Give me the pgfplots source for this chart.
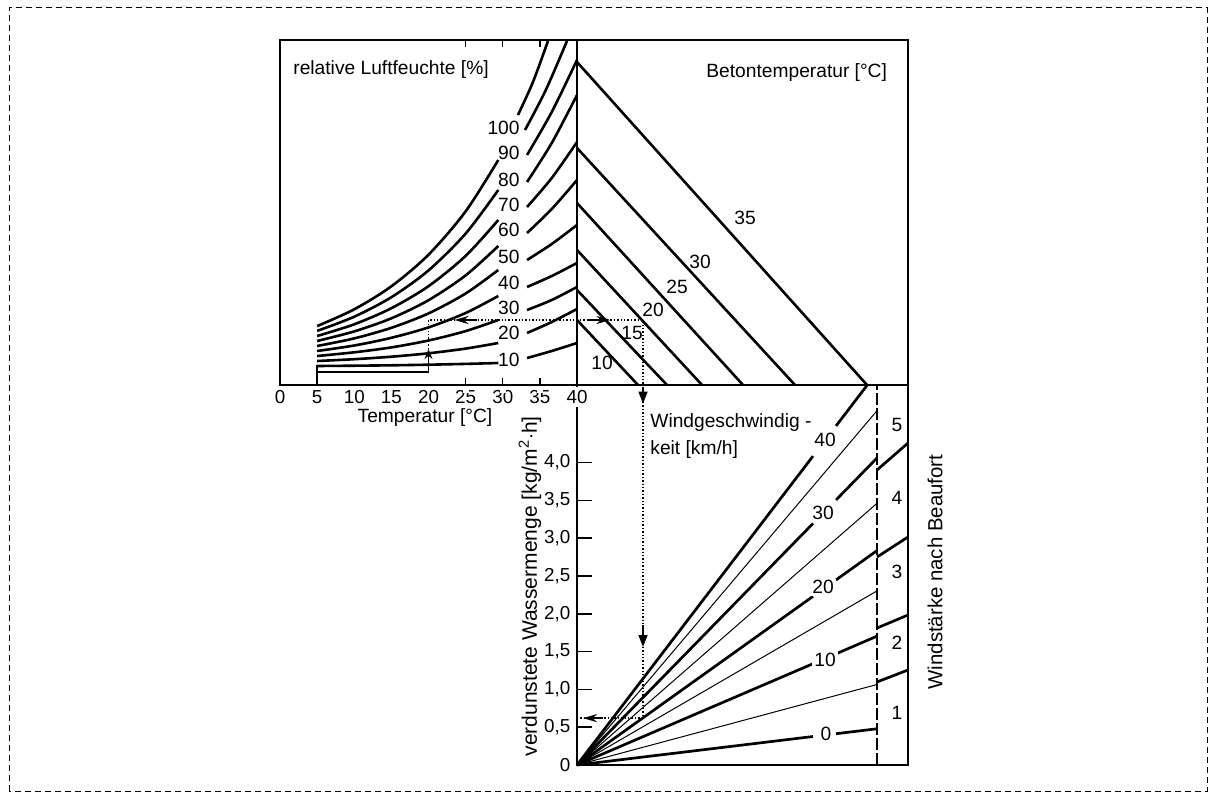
\documentclass[border=0pt]{standalone}
\usepackage{pgfplots}
\pgfplotsset{compat=1.18}
\usepackage{fontspec}
\setmainfont{Liberation Sans}
\usetikzlibrary{arrows.meta}
\begin{document}
\fontsize{9.6}{11}\selectfont
\begin{tikzpicture}
\useasboundingbox (0pt,0pt) rectangle (607.5pt,399.5pt);
\draw[line width=0.5pt, dash pattern=on 3pt off 2pt] (4.5pt,4pt) rectangle (603.5pt,395.5pt);
% ---------------- bottom panel: evaporation vs wind ----------------
\begin{axis}[at={(288.5pt,17pt)}, anchor=south west, scale only axis,
  width=165.5pt, height=190pt, xmin=0, xmax=331, ymin=0, ymax=5.0265,
  clip=false, axis line style={line width=0.8pt},
  xtick=\empty, ytick={0,0.5,1,1.5,2,2.5,3,3.5,4},
  yticklabels={0,{0,5},{1,0},{1,5},{2,0},{2,5},{3,0},{3,5},{4,0}},
  ytick pos=left, tick align=inside, major tick length=7.5pt,
  every tick/.style={line width=0.8pt, black},
  yticklabel style={font=\fontsize{9.4}{10}\selectfont}]
% thin lines (5,15,25,35 km/h)
\addplot[line width=0.5pt] coordinates {(0,0)(300,1.065)};
\addplot[line width=0.5pt] coordinates {(0,0)(300,2.303)};
\addplot[line width=0.5pt] coordinates {(0,0)(300,3.462)};
\addplot[line width=0.5pt] coordinates {(0,0)(300,4.687)};
% thick lines (0,10,20,30,40 km/h) with label gaps
\addplot[line width=1.35pt] coordinates {(0,0)(236,0.377)};
\addplot[line width=1.35pt] coordinates {(259,0.414)(300,0.479)};
\addplot[line width=1.35pt] coordinates {(0,0)(236,1.340)};
\addplot[line width=1.35pt] coordinates {(259,1.471)(300,1.704)};
\addplot[line width=1.35pt] coordinates {(0,0)(236,2.231)};
\addplot[line width=1.35pt] coordinates {(259,2.448)(300,2.836)};
\addplot[line width=1.35pt] coordinates {(0,0)(236,3.195)};
\addplot[line width=1.35pt] coordinates {(259,3.506)(300,4.061)};
\addplot[line width=1.35pt] coordinates {(0,0)(236,4.086)};
\addplot[line width=1.35pt] coordinates {(259,4.485)(290.3,5.0265)};
% Beaufort column
\addplot[line width=0.6pt, dash pattern=on 6pt off 1.5pt] coordinates {(300,0)(300,5.0265)};
\addplot[line width=1.35pt] coordinates {(300,1.098)(331,1.257)};
\addplot[line width=1.35pt] coordinates {(300,1.812)(331,1.984)};
\addplot[line width=1.35pt] coordinates {(300,2.751)(331,3.016)};
\addplot[line width=1.35pt] coordinates {(300,3.902)(331,4.259)};
% example path
\addplot[line width=0.7pt, densely dotted] coordinates {(66,5.0265)(66,0.62)(0,0.62)};
\addplot[line width=0.7pt, -{Triangle[length=6pt,width=4.5pt]}] coordinates {(66,5.0)(66,4.78)};
\addplot[line width=0.7pt, -{Triangle[length=6pt,width=4.5pt]}] coordinates {(66,1.85)(66,1.56)};
\addplot[line width=1.2pt, -{Stealth[length=7pt,width=4pt]}] coordinates {(26,0.62)(6,0.62)};
% labels
\node[fill=white, inner sep=1pt] at (axis cs:248,4.30) {40};
\node[fill=white, inner sep=1pt] at (axis cs:246,3.33) {30};
\node[fill=white, inner sep=1pt] at (axis cs:246,2.35) {20};
\node[fill=white, inner sep=1pt] at (axis cs:248,1.39) {10};
\node[fill=white, inner sep=1pt] at (axis cs:249,0.41) {0};
\node at (axis cs:320,4.497) {5};
\node at (axis cs:320,3.532) {4};
\node at (axis cs:320,2.553) {3};
\node at (axis cs:320,1.614) {2};
\node at (axis cs:320,0.688) {1};
\node[anchor=west, inner sep=0pt] at (axis cs:73,4.524) {Windgeschwindig -};
\node[anchor=west, inner sep=0pt] at (axis cs:73,4.167) {keit [km/h]};
\node[rotate=90, anchor=west, inner sep=0pt, font=\fontsize{10.5}{12}\selectfont] at (axis cs:-47,0.11) {verdunstete Wassermenge [kg/m\textsuperscript{2}$\cdot$h]};
\node[rotate=90, font=\fontsize{10.2}{12}\selectfont] at (axis cs:358,2.553) {Windstärke nach Beaufort};
\end{axis}
% ---------------- top panels ----------------
\begin{axis}[at={(140pt,207pt)}, anchor=south west, scale only axis,
  width=314pt, height=172.5pt, xmin=0, xmax=84.58, ymin=0, ymax=345,
  clip=false, axis line style={line width=0.8pt},
  xtick={0,5,10,15,20,25,30,35,40},
  xticklabels={0,5,10,15,20,25,30,35,40},
  ytick=\empty, major tick length=0pt,
  xticklabel style={font=\fontsize{9.4}{10}\selectfont, fill=white, inner sep=1.5pt, yshift=-1pt},
  extra x ticks={25,30,35}, extra x tick labels={},
  extra x tick style={major tick length=3.5pt, tick align=inside, every tick/.style={line width=0.7pt, black}}]
% relative humidity curves, left parts (90 ... 10 %)
\addplot[line width=1.3pt, smooth] coordinates {(5,58.9)(10,75.7)(15,98.7)(20,130.3)(25,173.6)(29.4,225)};
\addplot[line width=1.3pt, smooth] coordinates {(5,54.1)(10,68.3)(15,87.8)(20,114.6)(25,151.4)(29.4,195)};
\addplot[line width=1.3pt, smooth] coordinates {(5,49)(10,60.7)(15,76.8)(20,98.8)(25,129.1)(29.4,165)};
\addplot[line width=1.3pt, smooth] coordinates {(5,44)(10,53.6)(15,66.7)(20,84.8)(25,109.6)(29.4,139)};
\addplot[line width=1.3pt, smooth] coordinates {(5,39)(10,46.6)(15,57.2)(20,71.6)(25,91.5)(29.4,115)};
\addplot[line width=1.3pt, smooth] coordinates {(5,34)(10,39.5)(15,47.2)(20,57.6)(25,72.0)(29.4,89)};
\addplot[line width=1.3pt, smooth] coordinates {(5,29)(10,32.7)(15,37.6)(20,44.5)(25,53.9)(29.4,65)};
\addplot[line width=1.3pt, smooth] coordinates {(5,24)(10,25.8)(15,28.3)(20,31.7)(25,36.4)(29.4,42)};
\addplot[line width=1.3pt, smooth] coordinates {(5,19)(10,19.3)(15,19.7)(20,20.3)(25,21.1)(29.4,22)};
% right parts
\addplot[line width=1.3pt, smooth] coordinates {(32.05,270)(34.07,303)(36.09,344)};
\addplot[line width=1.3pt, smooth] coordinates {(33.0,255)(35.8,295)(38.65,344)};
\addplot[line width=1.3pt, smooth] coordinates {(33.27,230)(36.6,273)(40,325)};
\addplot[line width=1.3pt, smooth] coordinates {(33.27,203)(36.6,242)(40,290)};
\addplot[line width=1.3pt, smooth] coordinates {(33.27,178)(36.6,207)(40,243)};
\addplot[line width=1.3pt, smooth] coordinates {(33.27,152)(36.6,176)(40,205)};
\addplot[line width=1.3pt, smooth] coordinates {(33.27,125)(36.6,141)(40,160)};
\addplot[line width=1.3pt, smooth] coordinates {(33.27,98)(36.6,109)(40,122)};
\addplot[line width=1.3pt, smooth] coordinates {(33.27,75)(36.6,85)(40,98)};
\addplot[line width=1.3pt, smooth] coordinates {(33.27,52)(36.6,63)(40,76)};
\addplot[line width=1.3pt, smooth] coordinates {(33.27,27)(36.6,34)(40,42)};
% base line, start line and divider
\addplot[line width=1.3pt] coordinates {(5,13)(20,13)};
\addplot[line width=0.7pt] coordinates {(5,0)(5,20)};
\addplot[line width=0.8pt] coordinates {(40,0)(40,345)};
% concrete temperature lines
\addplot[line width=1.3pt] coordinates {(40,323)(79.06,0)};
\addplot[line width=1.3pt] coordinates {(40,237)(69.36,0)};
\addplot[line width=1.3pt] coordinates {(40,182)(62.36,0)};
\addplot[line width=1.3pt] coordinates {(40,135)(56.84,0)};
\addplot[line width=1.3pt] coordinates {(40,95)(52.12,0)};
\addplot[line width=1.3pt] coordinates {(40,65)(48.22,0)};
% example path
\addplot[line width=0.8pt, -{Stealth[length=5pt,width=4pt]}] coordinates {(20,12)(20,36)};
\addplot[line width=0.7pt, densely dotted] coordinates {(20,36)(20,65)(48.9,65)(48.9,0)};
\addplot[line width=1.2pt, -{Stealth[length=7pt,width=4pt]}] coordinates {(26.5,65)(23.5,65)};
\addplot[line width=1.2pt, -{Stealth[length=7pt,width=4pt]}] coordinates {(41.5,65)(44.5,65)};
% labels
\node[anchor=east, inner sep=0pt] at (axis cs:32.32,257) {100};
\node[anchor=east, inner sep=0pt] at (axis cs:32.32,232) {90};
\node[anchor=east, inner sep=0pt] at (axis cs:32.32,205) {80};
\node[anchor=east, inner sep=0pt] at (axis cs:32.32,180) {70};
\node[anchor=east, inner sep=0pt] at (axis cs:32.32,155) {60};
\node[anchor=east, inner sep=0pt] at (axis cs:32.32,128) {50};
\node[anchor=east, inner sep=0pt] at (axis cs:32.32,102) {40};
\node[anchor=east, inner sep=0pt] at (axis cs:32.32,77) {30};
\node[anchor=east, inner sep=0pt] at (axis cs:32.32,52) {20};
\node[anchor=east, inner sep=0pt] at (axis cs:32.32,25) {10};
\node at (axis cs:62.63,167) {35};
\node at (axis cs:56.57,123) {30};
\node at (axis cs:53.47,98) {25};
\node at (axis cs:50.24,75) {20};
\node at (axis cs:47.41,52) {15};
\node at (axis cs:43.37,22) {10};
\node[anchor=west, inner sep=0pt] at (axis cs:1.75,315) {relative Luftfeuchte [\%]};
\node[anchor=east, inner sep=0pt] at (axis cs:81.8,312) {Betontemperatur [°C]};
\node at (axis cs:19.53,-33) {Temperatur [°C]};
\end{axis}
\end{tikzpicture}
\end{document}
